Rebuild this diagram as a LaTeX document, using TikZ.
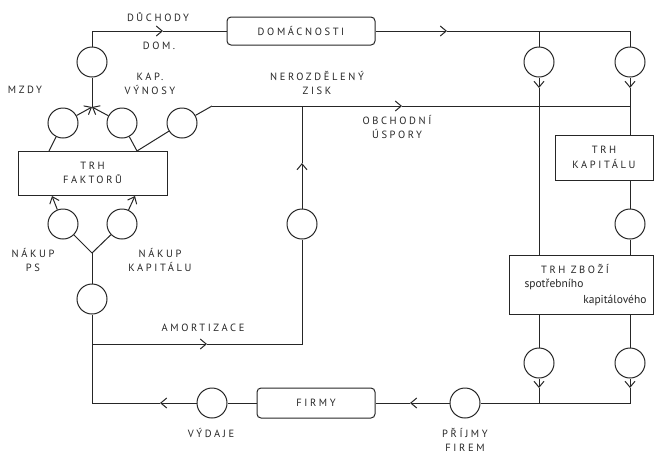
\documentclass[tikz,border=0pt]{standalone}
\usepackage{fontspec}
\setmainfont{PT Sans}
\newfontfamily\spaced[LetterSpace=25]{PT Sans}
\usetikzlibrary{arrows.meta}

\begin{document}
\begin{tikzpicture}[x=1pt,y=-1pt,line width=1pt,color=black!85,
    >={Straight Barb[length=6pt,width=10pt]},
    flow/.style={draw,circle,minimum size=30pt,inner sep=0pt},
    market/.style={draw,fill=white,inner sep=0pt,align=center,font=\spaced\fontsize{10.5}{14.5}\selectfont},
    agent/.style={draw,rounded corners=4pt,inner sep=0pt,font=\spaced\fontsize{10.5}{12}\selectfont},
    caps/.style={inner sep=0pt,align=center,font=\spaced\fontsize{10.5}{14.5}\selectfont},
    small/.style={inner sep=0pt,font=\fontsize{11.5}{14}\selectfont}]
  \useasboundingbox (0,0) rectangle (655,451);

  % agents and markets
  \node[agent,minimum width=148pt,minimum height=28pt] (dom) at (301,31) {DOMÁCNOSTI};
  \node[agent,minimum width=118pt,minimum height=30pt] (firmy) at (316,403) {FIRMY};
  \node[market,minimum width=149pt,minimum height=44pt] (faktory) at (92.5,173) {TRH\\FAKTORŮ};
  \node[market,minimum width=98pt,minimum height=45pt] (kapital) at (604,157.5) {TRH\\KAPITÁLU};
  \node[market,minimum width=144pt,minimum height=59pt] (zbozi) at (581,284.5) {};
  \node[caps] (zbozit) at (575,269) {TRH ZBOŽÍ};
  \node[small,anchor=west] (zbozis) at (524,284) {spotřebního};
  \node[small,anchor=east] (zbozik) at (647,300) {kapitálového};

  % flow circles
  \node[flow] (c_duch) at (92,62) {};
  \node[flow] (c_mzdy) at (63,123) {};
  \node[flow] (c_kap) at (122,123) {};
  \node[flow] (c_zisk) at (182,123) {};
  \node[flow] (c_nps) at (63,224) {};
  \node[flow] (c_nkap) at (122,224) {};
  \node[flow] (c_inv) at (92,299) {};
  \node[flow] (c_amort) at (302,224) {};
  \node[flow] (c_vyd) at (212,403) {};
  \node[flow] (c_prij) at (465,403) {};
  \node[flow] (c_spotr) at (539,62) {};
  \node[flow] (c_usp) at (630,62) {};
  \node[flow] (c_kinv) at (630,224) {};
  \node[flow] (c_zs) at (539,363) {};
  \node[flow] (c_zk) at (630,363) {};

  % bends, joints and arrow points
  \coordinate (mzj) at (92,107);
  \coordinate (a_duch) at (163,31);
  \coordinate (a_dom) at (447,31);
  \coordinate (branch) at (539,31);
  \coordinate (topr) at (630,31);
  \coordinate (fl) at (49,151);
  \coordinate (fr) at (137,151);
  \coordinate (tip_ps) at (52,196);
  \coordinate (tip_kap) at (135,196);
  \coordinate (nj) at (92,253);
  \coordinate (amj) at (92,344);
  \coordinate (a_am) at (207,344);
  \coordinate (a_ze) at (302,163);
  \coordinate (zj) at (302,106);
  \coordinate (kz) at (212,106);
  \coordinate (a_usp) at (402,106);
  \coordinate (ur) at (630,106);
  \coordinate (a_s1) at (539,88);
  \coordinate (a_s2) at (630,88);
  \coordinate (a_z1) at (539,388);
  \coordinate (a_z2) at (630,388);
  \coordinate (bm) at (539,403);
  \coordinate (br) at (630,403);
  \coordinate (a_prij) at (410,403);
  \coordinate (a_vyd) at (160,403);
  \coordinate (bl) at (92,403);

  % factor incomes
  \draw (fl) -- (c_mzdy);
  \draw (fr) -- (c_kap);
  \draw (fr) -- (c_zisk);
  \draw[->] (c_mzdy) -- (mzj);
  \draw[->] (c_kap) -- (mzj);
  \draw (mzj) -- (c_duch);
  \draw[->] (c_duch) |- (a_duch);
  \draw (a_duch) -- (dom);

  % household spending
  \draw[->] (dom) -- (a_dom);
  \draw (a_dom) -- (topr) -- (c_usp);
  \draw (branch) -- (c_spotr);
  \draw[->] (c_spotr) -- (a_s1);
  \draw (a_s1) -- (a_s1 |- zbozi.north);
  \draw[->] (c_usp) -- (a_s2);
  \draw (a_s2) -- (a_s2 |- kapital.north);
  \draw (kapital.south -| c_kinv) -- (c_kinv);
  \draw (c_kinv) -- (c_kinv |- zbozi.north);

  % goods market to firms
  \draw (zbozi.south -| c_zs) -- (c_zs);
  \draw[->] (c_zs) -- (a_z1);
  \draw (a_z1) -- (bm);
  \draw (zbozi.south -| c_zk) -- (c_zk);
  \draw[->] (c_zk) -- (a_z2);
  \draw (a_z2) -- (br) -- (c_prij);
  \draw[->] (c_prij) -- (a_prij);
  \draw (a_prij) -- (firmy);

  % firms' spending
  \draw (firmy) -- (c_vyd);
  \draw[->] (c_vyd) -- (a_vyd);
  \draw (a_vyd) -- (bl) -- (c_inv);
  \draw (c_inv) -- (nj);
  \draw (nj) -- (c_nps);
  \draw (nj) -- (c_nkap);
  \draw[->] (c_nps) -- (tip_ps);
  \draw[->] (c_nkap) -- (tip_kap);

  % savings
  \draw[->] (amj) -- (a_am);
  \draw (a_am) -| (c_amort);
  \draw[->] (c_amort) -- (a_ze);
  \draw (a_ze) -- (zj);
  \draw (c_zisk) -- (kz);
  \draw[->] (kz) -- (a_usp);
  \draw (a_usp) -- (ur);

  % labels
  \node[caps] (l_duch) at (158,17) {DŮCHODY};
  \node[caps] (l_dom) at (159,46) {DOM.};
  \node[caps] (l_mzdy) at (25,90) {MZDY};
  \node[caps] (l_kap) at (150,84) {KAP.\\VÝNOSY};
  \node[caps] (l_zisk) at (317,83) {NEROZDĚLENÝ\\ZISK};
  \node[caps] (l_usp) at (397,127) {OBCHODNÍ\\ÚSPORY};
  \node[caps] (l_nps) at (33,260) {NÁKUP\\PS};
  \node[caps] (l_nkap) at (160,260) {NÁKUP\\KAPITÁLU};
  \node[caps] (l_am) at (203,328) {AMORTIZACE};
  \node[caps] (l_vyd) at (211,433) {VÝDAJE};
  \node[caps] (l_prij) at (465,440) {PŘÍJMY\\FIREM};
\end{tikzpicture}
\end{document}
